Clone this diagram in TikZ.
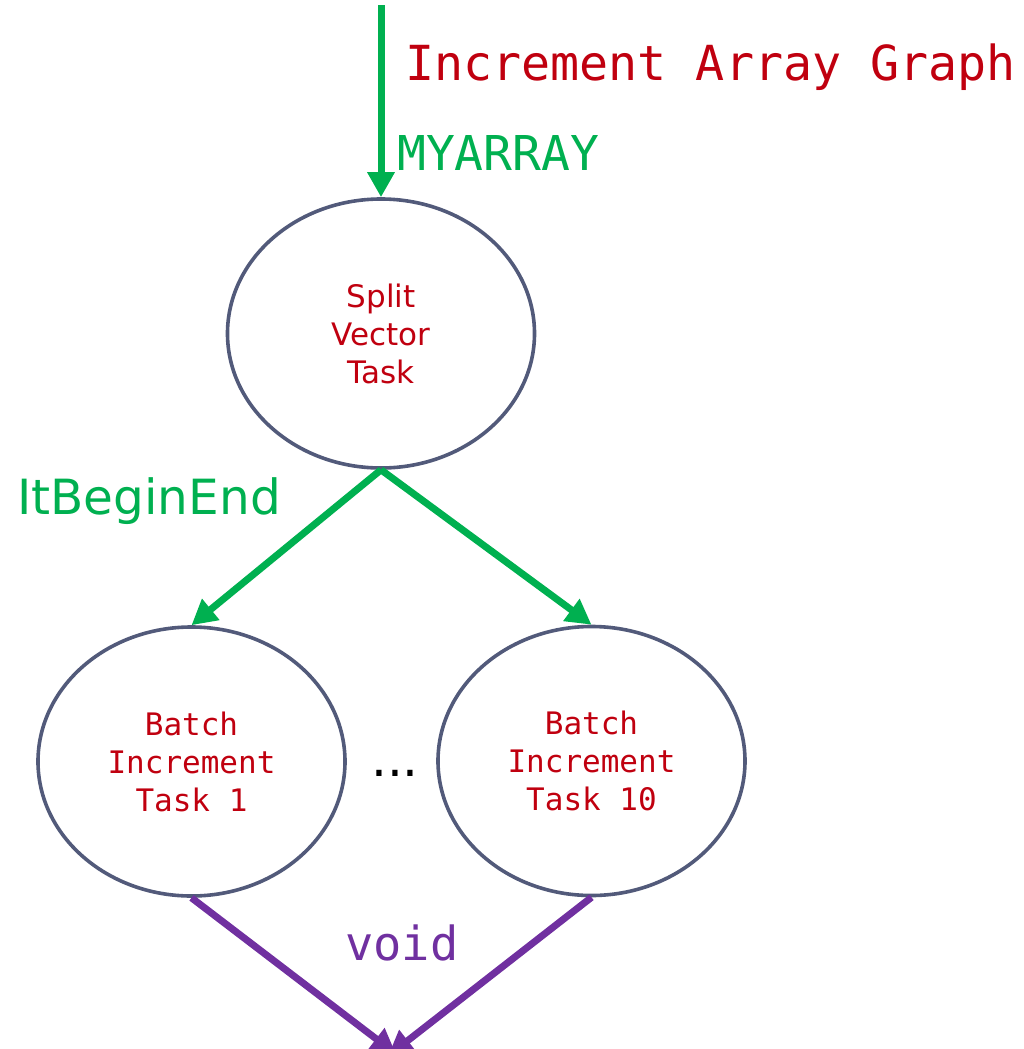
\documentclass[tikz,border=0pt]{standalone}
\usepackage{fontspec}
\setmainfont{DejaVu Sans}
\newfontfamily\monofont{DejaVu Sans Mono}
\usetikzlibrary{arrows.meta,shapes.geometric}
\definecolor{taskred}{HTML}{C0000F}
\definecolor{flowgreen}{HTML}{00B050}
\definecolor{flowpurple}{HTML}{7030A0}
\definecolor{edgegray}{HTML}{525A7A}
\tikzset{
  taskbox/.style={ellipse, draw=edgegray, line width=3.6bp, minimum width=307bp, minimum height=269bp, inner sep=0pt, align=center, text=taskred},
  greenflow/.style={draw=flowgreen, line width=7bp, -{Triangle[length=25bp,width=26bp]}},
  purpleflow/.style={draw=flowpurple, line width=7bp, -{Triangle[length=25bp,width=26bp]}},
  biglabel/.style={anchor=base west, inner sep=0pt},
}
\begin{document}
\begin{tikzpicture}[x=1bp,y=-1bp]
\useasboundingbox (0,0) rectangle (1024,1049);
\clip (0,0) rectangle (1024,1049);
\node[taskbox, font=\fontsize{31bp}{38bp}\selectfont] (split) at (381,333.5) {Split\\Vector\\Task};
\node[taskbox, font=\monofont\fontsize{31bp}{38bp}\selectfont] (batchA) at (191.5,761.5) {Batch\\Increment\\Task 1};
\node[taskbox, font=\monofont\fontsize{31bp}{38bp}\selectfont] (batchB) at (591.5,761) {Batch\\Increment\\Task 10};
\node[font=\fontsize{50bp}{56bp}\selectfont, inner sep=0pt, anchor=base] (dots) at (395,776) {...};
\node[biglabel, text=taskred, font=\monofont\fontsize{48.3bp}{56bp}\selectfont] (title) at (405,80) {Increment Array Graph};
\node[biglabel, text=flowgreen, font=\monofont\fontsize{48bp}{56bp}\selectfont] (myarray) at (397,170) {MYARRAY};
\node[biglabel, text=flowgreen, font=\fontsize{48.5bp}{56bp}\selectfont] (itbe) at (17,514) {ItBeginEnd};
\node[biglabel, text=flowpurple, font=\monofont\fontsize{47bp}{56bp}\selectfont] (void) at (345,960) {void};
\coordinate (src) at (381,5);
\coordinate (sinkA) at (396,1054);
\coordinate (sinkB) at (388,1056);
\draw[greenflow] (src) -- (split.north);
\draw[greenflow] (split.south) -- (batchA.north);
\draw[greenflow] (split.south) -- (batchB.north);
\draw[purpleflow] (batchA.south) -- (sinkA);
\draw[purpleflow] (batchB.south) -- (sinkB);
\end{tikzpicture}
\end{document}
